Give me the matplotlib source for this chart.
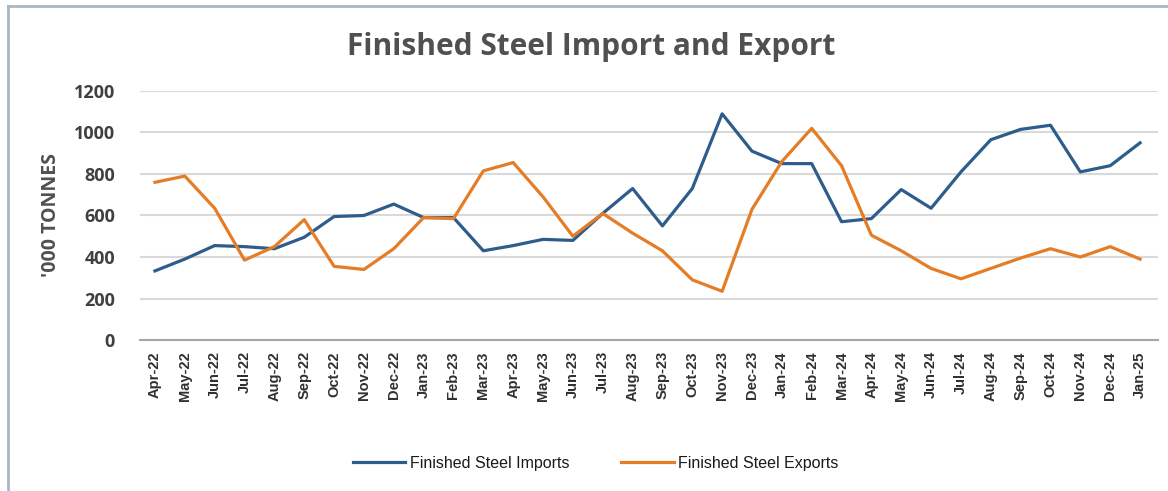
import numpy as np
from matplotlib import pyplot as plt
from matplotlib.lines import Line2D

months = ["Apr-22", "May-22", "Jun-22", "Jul-22", "Aug-22", "Sep-22", "Oct-22", "Nov-22",
          "Dec-22", "Jan-23", "Feb-23", "Mar-23", "Apr-23", "May-23", "Jun-23", "Jul-23",
          "Aug-23", "Sep-23", "Oct-23", "Nov-23", "Dec-23", "Jan-24", "Feb-24", "Mar-24",
          "Apr-24", "May-24", "Jun-24", "Jul-24", "Aug-24", "Sep-24", "Oct-24", "Nov-24",
          "Dec-24", "Jan-25"]
imports = [333, 390, 455, 450, 440, 495, 595, 600, 655, 590, 590, 430, 455, 485, 480, 610,
           730, 550, 730, 1090, 910, 850, 850, 570, 585, 725, 635, 810, 965, 1015, 1035, 810,
           840, 950]
exports = [760, 790, 635, 385, 450, 580, 355, 340, 440, 590, 585, 815, 855, 690, 500, 610,
           515, 430, 290, 235, 630, 860, 1020, 840, 505, 430, 345, 295, 345, 395, 440, 400,
           450, 390]
yticks = [0, 200, 400, 600, 800, 1000, 1200]

blue = "#2e5d8c"
orange = "#e57c26"

fig = plt.figure(figsize=(11.68, 4.91), dpi=100)
ax = fig.add_axes([0.1199, 0.3075, 0.8715, 0.5072])
x = np.arange(len(months))
ax.plot(x, imports, color=blue, lw=2.3, label="Finished Steel Imports", zorder=3)
ax.plot(x, exports, color=orange, lw=2.3, label="Finished Steel Exports", zorder=3)

ax.set_xlim(-0.5, 33.6)
ax.set_ylim(0, 1200)
ax.set_yticks(yticks)
ax.set_yticklabels([str(v) for v in yticks], fontsize=13, fontweight="bold",
                   color="#404040", family="Open Sans")
ax.set_xticks(x)
ax.set_xticklabels(months, rotation=90, fontsize=10.5, fontweight="bold",
                   color="#303030", family="Liberation Sans")
ax.tick_params(length=0)
ax.tick_params(axis="y", pad=18)
ax.tick_params(axis="x", pad=8)
ax.grid(axis="y", color="#d9d9d9", lw=1.5)
ax.set_axisbelow(True)
for s in ["top", "right", "left"]:
    ax.spines[s].set_visible(False)
ax.spines["bottom"].set_color("#a6a6a6")
ax.spines["bottom"].set_linewidth(1.5)

ax.set_ylabel("'000 TONNES", fontsize=14, fontweight="bold", color="#505050",
              family="Open Sans", labelpad=9)

fig.text(0.506, 0.905, "Finished Steel Import and Export", ha="center", va="center",
         fontsize=21.5, fontweight="bold", color="#505050", family="Open Sans")

fig.legend(loc="center", bbox_to_anchor=(0.51, 0.057), ncol=2, frameon=False,
           prop={"family": "Liberation Sans", "size": 11.5}, labelcolor="#1a1a1a",
           handlelength=3.3, columnspacing=3.2, handletextpad=0.3)

# chart border (left and top)
fig.add_artist(Line2D([0.007, 0.007], [0, 0.988], color="#a8b8c4", lw=2))
fig.add_artist(Line2D([0.007, 1], [0.988, 0.988], color="#a8b8c4", lw=2))

fig.savefig("out.png", dpi=100)
